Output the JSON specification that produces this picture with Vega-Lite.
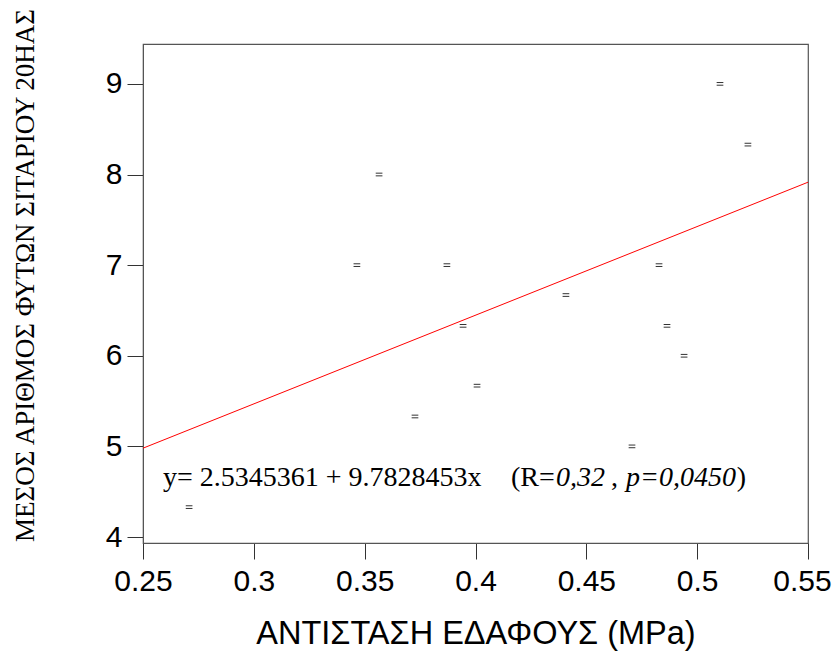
{
  "$schema": "https://vega.github.io/schema/vega-lite/v6.json",
  "width": 665,
  "height": 499,
  "autosize": "none",
  "padding": {"left": 143, "top": 44, "right": 27, "bottom": 110},
  "background": "white",
  "config": {
    "view": {"stroke": "#555555", "strokeWidth": 1.2},
    "axis": {
      "grid": false,
      "labelFont": "Liberation Sans",
      "labelFontSize": 30,
      "labelColor": "#000000",
      "labelFlush": false,
      "labelOverlap": false,
      "tickSize": 16,
      "tickColor": "#333333",
      "domainColor": "#555555",
      "titleColor": "#000000",
      "titleFontWeight": "normal"
    }
  },
  "encoding": {
    "x": {
      "field": "x",
      "type": "quantitative",
      "scale": {"domain": [0.25, 0.55], "nice": false, "zero": false},
      "axis": {
        "values": [0.25, 0.3, 0.35, 0.4, 0.45, 0.5, 0.55],
        "format": "~g",
        "labelPadding": 7,
        "labelOffset": {"condition": {"test": "datum.value > 0.54", "value": -6}, "value": 0},
        "title": "ΑΝΤΙΣΤΑΣΗ ΕΔΑΦΟΥΣ (MPa)",
        "titleFont": "Liberation Sans",
        "titleFontSize": 32.5,
        "titleY": 100,
        "titleBaseline": "alphabetic"
      }
    },
    "y": {
      "field": "y",
      "type": "quantitative",
      "scale": {"domain": [3.934, 9.44], "nice": false, "zero": false},
      "axis": {
        "values": [4, 5, 6, 7, 8, 9],
        "format": "d",
        "labelPadding": 5,
        "title": "ΜΕΣΟΣ ΑΡΙΘΜΟΣ ΦΥΤΩΝ ΣΙΤΑΡΙΟΥ 20ΗΑΣ",
        "titleFont": "Liberation Serif",
        "titleFontSize": 27,
        "titleAngle": -90,
        "titleX": -110,
        "titleY": 231,
        "titleAlign": "center",
        "titleBaseline": "alphabetic"
      }
    }
  },
  "layer": [
    {
      "data": {
        "values": [
          {"x": 0.2708, "y": 4.33},
          {"x": 0.3465, "y": 7.0},
          {"x": 0.3565, "y": 8.0},
          {"x": 0.3727, "y": 5.33},
          {"x": 0.3871, "y": 7.0},
          {"x": 0.3944, "y": 6.33},
          {"x": 0.4007, "y": 5.67},
          {"x": 0.4408, "y": 6.67},
          {"x": 0.4706, "y": 5.0},
          {"x": 0.4828, "y": 7.0},
          {"x": 0.4864, "y": 6.33},
          {"x": 0.4941, "y": 6.0},
          {"x": 0.5103, "y": 9.0},
          {"x": 0.5229, "y": 8.33}
        ]
      },
      "mark": {
        "type": "point",
        "shape": "M-1,-0.4H1M-1,0.4H1",
        "size": 45,
        "filled": false,
        "stroke": "#333333",
        "strokeWidth": 1,
        "opacity": 1
      }
    },
    {
      "data": {"values": [{"x": 0.25, "y": 4.98}, {"x": 0.55, "y": 7.915}]},
      "mark": {"type": "line", "color": "#ff0000", "strokeWidth": 1}
    },
    {
      "data": {
        "values": [
          {"x": 0.259, "y": 4.563, "t": "y= 2.5345361 + 9.7828453x"},
          {"x": 0.416, "y": 4.563, "t": "(R="},
          {"x": 0.4611, "y": 4.563, "t": ","},
          {"x": 0.5179, "y": 4.563, "t": ")"}
        ]
      },
      "mark": {
        "type": "text",
        "align": "left",
        "baseline": "alphabetic",
        "font": "Liberation Serif",
        "fontSize": 28,
        "color": "#000000"
      },
      "encoding": {"text": {"field": "t"}}
    },
    {
      "data": {
        "values": [
          {"x": 0.4363, "y": 4.563, "t": "0,32"},
          {"x": 0.4679, "y": 4.563, "t": "p=0,0450"}
        ]
      },
      "mark": {
        "type": "text",
        "align": "left",
        "baseline": "alphabetic",
        "font": "Liberation Serif",
        "fontSize": 28,
        "fontStyle": "italic",
        "color": "#000000"
      },
      "encoding": {"text": {"field": "t"}}
    }
  ]
}
